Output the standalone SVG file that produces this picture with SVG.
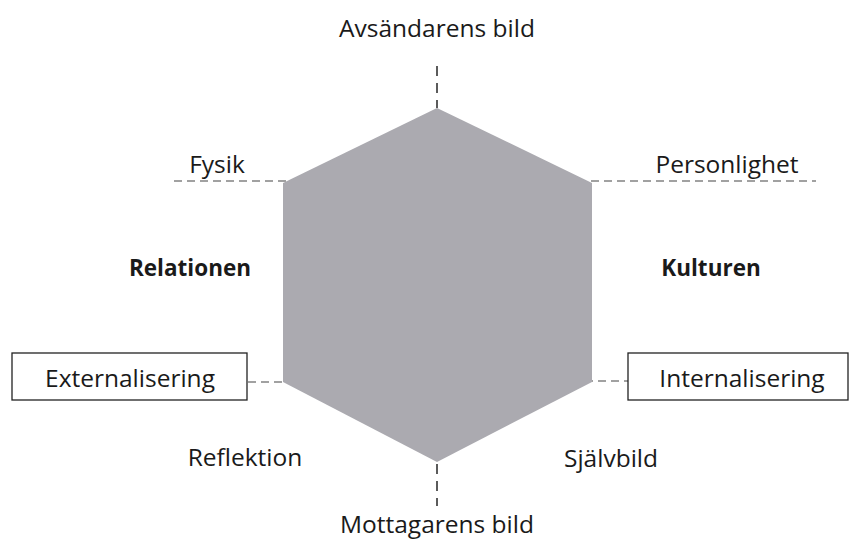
<svg xmlns="http://www.w3.org/2000/svg" width="851" height="542" viewBox="0 0 851 542">
<style>
text{font-family:"Open Sans","Noto Sans","Liberation Sans",sans-serif;fill:#1a1a1a;font-size:24.5px}
.b{font-weight:bold;font-size:22.5px}
.d{stroke:#444;stroke-width:1.2;fill:none;stroke-dasharray:8 5}
.v{stroke:#333;stroke-width:1.6;fill:none;stroke-dasharray:10 7}
.box{fill:#fff;stroke:#222;stroke-width:1.3}
</style>
<g id="connectors">
<line class="v" x1="437" y1="66" x2="437" y2="108"/>
<line class="v" x1="437" y1="464" x2="437" y2="506"/>
<line class="d" x1="174" y1="181" x2="300" y2="181"/>
<line class="d" x1="578" y1="181" x2="816" y2="181"/>
<line class="d" x1="248" y1="382" x2="290" y2="382"/>
<line class="d" x1="585" y1="381" x2="628" y2="381"/>
</g>
<g id="hexagon">
<polygon points="437,108 592,183 592,382 437,462 283,382 283,183" fill="#abaab0"/>
</g>
<g id="avsandarens"><text x="437" y="37" text-anchor="middle">Avsändarens bild</text></g>
<g id="fysik"><text x="217" y="173" text-anchor="middle">Fysik</text></g>
<g id="personlighet"><text x="727" y="173" text-anchor="middle">Personlighet</text></g>
<g id="relationen"><text class="b" x="190" y="276" text-anchor="middle">Relationen</text></g>
<g id="kulturen"><text class="b" x="711" y="276" text-anchor="middle">Kulturen</text></g>
<g id="externalisering"><rect class="box" x="12" y="353" width="235" height="47"/><text x="130" y="387" text-anchor="middle">Externalisering</text></g>
<g id="internalisering"><rect class="box" x="628" y="353" width="220" height="47"/><text x="742" y="387" text-anchor="middle">Internalisering</text></g>
<g id="reflektion"><text x="245" y="466" text-anchor="middle">Reflektion</text></g>
<g id="sjalvbild"><text x="611" y="467" text-anchor="middle">Självbild</text></g>
<g id="mottagarens"><text x="437" y="533" text-anchor="middle">Mottagarens bild</text></g>
</svg>
